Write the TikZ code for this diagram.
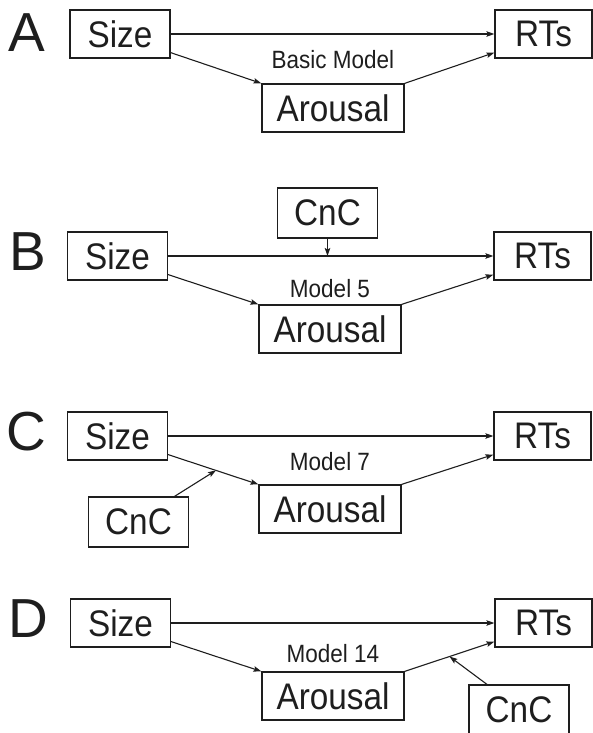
\documentclass[tikz,border=0pt]{standalone}
\usepackage{fontspec}
\setmainfont[FakeStretch=0.9]{Liberation Sans}
\newfontfamily\letterfont{Liberation Sans}
\usetikzlibrary{arrows.meta,calc}
\definecolor{ink}{RGB}{30,30,30}
\tikzset{
  box/.style={draw=ink, text=ink, line width=1.2pt, inner sep=0pt, minimum height=48pt, font=\fontsize{37}{40}\selectfont},
  sizebox/.style={box, minimum width=100pt},
  rtbox/.style={box, minimum width=97pt},
  arbox/.style={box, minimum width=142pt},
  cncbox/.style={box, minimum width=100pt, minimum height=50pt},
  modellabel/.style={text=ink, inner sep=0pt, font=\fontsize{25}{27}\selectfont},
  panelletter/.style={text=ink, inner sep=0pt, anchor=base west, font=\letterfont\fontsize{55}{58}\selectfont},
  conn/.style={draw=ink, line width=1.1pt, -{Stealth[length=8pt,width=5.5pt,inset=1.5pt]}}
}
\begin{document}
\begin{tikzpicture}[x=1pt,y=-1pt]
\useasboundingbox (0,0) rectangle (593,733);
% Panel A
\node[panelletter] (la) at (8,52) {A};
\node[sizebox] (sa) at (120,34) {Size};
\node[rtbox] (ra) at (543.5,34) {RTs};
\node[arbox] (aa) at (333,108) {Arousal};
\node[modellabel] (ma) at (333,60) {Basic Model};
\draw[conn] (sa.east) -- (ra.west |- sa.east);
\draw[conn] ($(sa.south east)+(0,-6)$) -- (aa.north west);
\draw[conn] (aa.north east) -- ($(ra.south west)+(0,-6)$);
% Panel B
\node[panelletter] (lb) at (9,270) {B};
\node[cncbox] (cb) at (327.5,213) {CnC};
\node[sizebox] (sb) at (117.5,256) {Size};
\node[rtbox] (rb) at (542.5,256) {RTs};
\node[arbox] (ab) at (330,329) {Arousal};
\node[modellabel] (mb) at (330,289) {Model 5};
\draw[conn] (sb.east) -- (rb.west |- sb.east);
\draw[conn] ($(sb.south east)+(0,-6)$) -- (ab.north west);
\draw[conn] (ab.north east) -- ($(rb.south west)+(0,-6)$);
\draw[conn] (cb.south) -- (cb.south |- sb.east);
% Panel C
\node[panelletter] (lc) at (6,450) {C};
\node[sizebox] (sc) at (117.5,436) {Size};
\node[rtbox] (rc) at (542.5,436) {RTs};
\node[arbox] (ac) at (330,509) {Arousal};
\node[cncbox] (cc) at (138.5,522) {CnC};
\node[modellabel] (mc) at (330,462) {Model 7};
\draw[conn] (sc.east) -- (rc.west |- sc.east);
\draw[conn] ($(sc.south east)+(0,-6)$) -- coordinate[pos=0.53] (pc) (ac.north west);
\draw[conn] (ac.north east) -- ($(rc.south west)+(0,-6)$);
\draw[conn] ($(cc.north)+(36,0)$) -- (pc);
% Panel D
\node[panelletter] (ld) at (8,637) {D};
\node[sizebox] (sd) at (120.5,623) {Size};
\node[rtbox] (rd) at (543.5,623) {RTs};
\node[arbox] (ad) at (333,696) {Arousal};
\node[cncbox] (cd) at (519,710) {CnC};
\node[modellabel] (md) at (333,654) {Model 14};
\draw[conn] (sd.east) -- (rd.west |- sd.east);
\draw[conn] ($(sd.south east)+(0,-6)$) -- (ad.north west);
\draw[conn] (ad.north east) -- coordinate[pos=0.5] (pd) ($(rd.south west)+(0,-6)$);
\draw[conn] ($(cd.north)+(-32,0)$) -- (pd);
\end{tikzpicture}
\end{document}
